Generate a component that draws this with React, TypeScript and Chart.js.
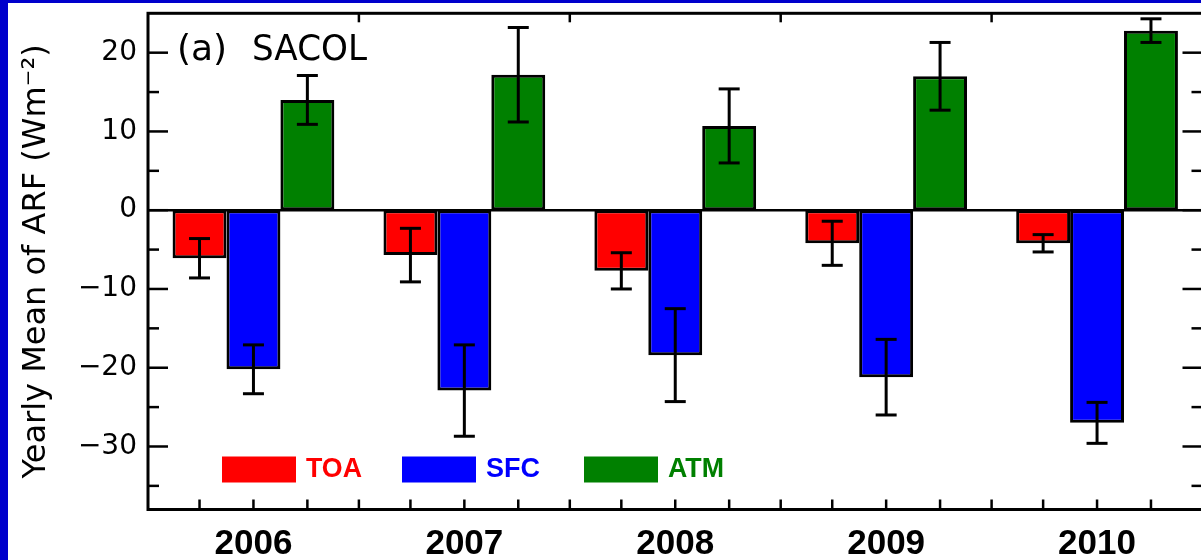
import React, { useEffect, useRef } from "react";
import { Chart, registerables } from "chart.js";

Chart.register(...registerables);

// ---- data ----
const years = ["2006", "2007", "2008", "2009", "2010"];
const seriesNames = ["TOA", "SFC", "ATM"];
const toaValues = [-6.1, -5.7, -7.7, -4.2, -4.2];
const toaErrors = [2.5, 3.4, 2.3, 2.8, 1.1];
const sfcValues = [-20.2, -22.9, -18.4, -21.2, -27.0];
const sfcErrors = [3.1, 5.8, 5.9, 4.8, 2.6];
const atmValues = [14.0, 17.2, 10.7, 17.0, 22.8];
const atmErrors = [3.1, 6.0, 4.7, 4.3, 1.5];
const yMajorTicks = [-30, -20, -10, 0, 10, 20];
const yMinorTicks = [-35, -25, -15, -5, 5, 15];
const yMin = -38;
const yMax = 25;
const yTitle = "Yearly Mean of ARF (Wm⁻²)";
const panelLabel = "(a)";
const siteLabel = "SACOL";

// ---- styles ----
const seriesColors = ["#FF0000", "#0000FF", "#008000"];
const seriesValues = [toaValues, sfcValues, atmValues];
const seriesErrors = [toaErrors, sfcErrors, atmErrors];

const framePlugin = {
  id: "frameAndDecor",
  afterDatasetsDraw(chart: any) {
    const ctx = chart.ctx as CanvasRenderingContext2D;
    const { left, right, top, bottom } = chart.chartArea;
    const ys = chart.scales.y;
    const xs = chart.scales.x;
    const line = (x1: number, y1: number, x2: number, y2: number) => {
      ctx.beginPath();
      ctx.moveTo(x1, y1);
      ctx.lineTo(x2, y2);
      ctx.stroke();
    };
    ctx.save();
    ctx.strokeStyle = "#000";
    ctx.lineCap = "butt";

    // zero line
    ctx.lineWidth = 2.5;
    const y0 = ys.getPixelForValue(0);
    line(left, y0, right, y0);

    // error bars
    chart.data.datasets.forEach((ds: any, di: number) => {
      const meta = chart.getDatasetMeta(di);
      meta.data.forEach((el: any, i: number) => {
        const v = ds.data[i];
        const e = ds.errors[i];
        const yt = ys.getPixelForValue(v + e);
        const yb = ys.getPixelForValue(v - e);
        ctx.lineWidth = 3;
        line(el.x, yt, el.x, yb);
        line(el.x - 10.5, yt, el.x + 10.5, yt);
        line(el.x - 10.5, yb, el.x + 10.5, yb);
      });
    });

    // y ticks (inward, both sides)
    ctx.lineWidth = 2.5;
    yMajorTicks.forEach((v) => {
      const p = ys.getPixelForValue(v);
      line(left, p, left + 20, p);
      line(right, p, right - 20, p);
    });
    yMinorTicks.forEach((v) => {
      const p = ys.getPixelForValue(v);
      line(left, p, left + 11, p);
      line(right, p, right - 11, p);
    });

    // x ticks: bar centres (bottom) and group boundaries (top & bottom)
    chart.data.datasets.forEach((_ds: any, di: number) => {
      const meta = chart.getDatasetMeta(di);
      meta.data.forEach((el: any) => {
        line(el.x, bottom, el.x, bottom - 10);
      });
    });
    for (let i = 0; i < years.length - 1; i++) {
      const bx = (xs.getPixelForValue(i) + xs.getPixelForValue(i + 1)) / 2;
      line(bx, bottom, bx, bottom - 10);
      line(bx, top, bx, top + 9);
    }

    // frame
    ctx.lineWidth = 3;
    ctx.strokeRect(left, top, right - left, bottom - top);

    // legend
    const legendX = [74, 254, 436];
    chart.data.datasets.forEach((ds: any, di: number) => {
      const rx = left + legendX[di];
      const ry = bottom - 53;
      ctx.fillStyle = ds.backgroundColor;
      ctx.fillRect(rx, ry, 74, 26);
      ctx.font = "bold 27px 'Liberation Sans'";
      ctx.textBaseline = "alphabetic";
      ctx.textAlign = "left";
      ctx.fillText(ds.label, rx + 84, bottom - 32.5, 56);
    });

    // panel label
    ctx.fillStyle = "#000";
    ctx.font = "36px 'DejaVu Sans'";
    ctx.textBaseline = "alphabetic";
    ctx.textAlign = "left";
    ctx.fillText(panelLabel, left + 29, top + 47, 51);
    ctx.fillText(siteLabel, left + 104, top + 47, 115);

    ctx.restore();
  },
};

export default function App() {
  const canvasRef = useRef<HTMLCanvasElement | null>(null);

  useEffect(() => {
    if (!canvasRef.current) return;
    const chart = new Chart(canvasRef.current, {
      type: "bar",
      data: {
        labels: years,
        datasets: seriesNames.map((name, k) => ({
          label: name,
          data: seriesValues[k],
          errors: seriesErrors[k],
          backgroundColor: seriesColors[k],
          borderColor: "#000",
          borderWidth: 3,
          borderSkipped: false,
          categoryPercentage: 0.767,
          barPercentage: 1,
        })) as any,
      },
      options: {
        animation: false,
        responsive: false,
        devicePixelRatio: 1,
        layout: { padding: { top: 10.3, right: 1.5, left: 0, bottom: 0 } },
        plugins: {
          legend: { display: false },
          tooltip: { enabled: false },
        },
        scales: {
          x: {
            afterFit: (s: any) => {
              s.height = 50.5;
              s.paddingLeft = 0;
              s.paddingRight = 0;
            },
            grid: { display: false, drawTicks: false },
            border: { display: false },
            ticks: {
              color: "#000",
              font: { family: "Liberation Sans", size: 35, weight: "bold", lineHeight: 1 },
              padding: 17,
            },
          },
          y: {
            min: yMin,
            max: yMax,
            afterFit: (s: any) => {
              s.width = 140;
              s.paddingTop = 0;
              s.paddingBottom = 0;
            },
            afterBuildTicks: (s: any) => {
              s.ticks = yMajorTicks.map((v) => ({ value: v }));
            },
            grid: { display: false, drawTicks: false },
            border: { display: false },
            ticks: {
              color: "#000",
              font: { family: "DejaVu Sans", size: 28 },
              padding: 11,
              callback: (v: any) => (Number(v) < 0 ? "\u2212" + Math.abs(Number(v)) : String(v)),
            },
            title: {
              display: true,
              text: yTitle,
              color: "#000",
              font: { family: "DejaVu Sans", size: 32, lineHeight: 1 },
              padding: { top: 13, bottom: 0 },
            },
          },
        },
      } as any,
      plugins: [framePlugin],
    });
    return () => chart.destroy();
  }, []);

  return (
    <div
      style={{
        position: "fixed",
        left: 0,
        top: 0,
        width: 1201,
        height: 560,
        background: "#0000CC",
        overflow: "hidden",
      }}
    >
      <div
        style={{
          position: "absolute",
          left: 8,
          top: 3,
          width: 1200,
          height: 557,
          background: "#FFFFFF",
        }}
      >
        <canvas ref={canvasRef} width={1196} height={557} style={{ display: "block" }} />
      </div>
    </div>
  );
}
